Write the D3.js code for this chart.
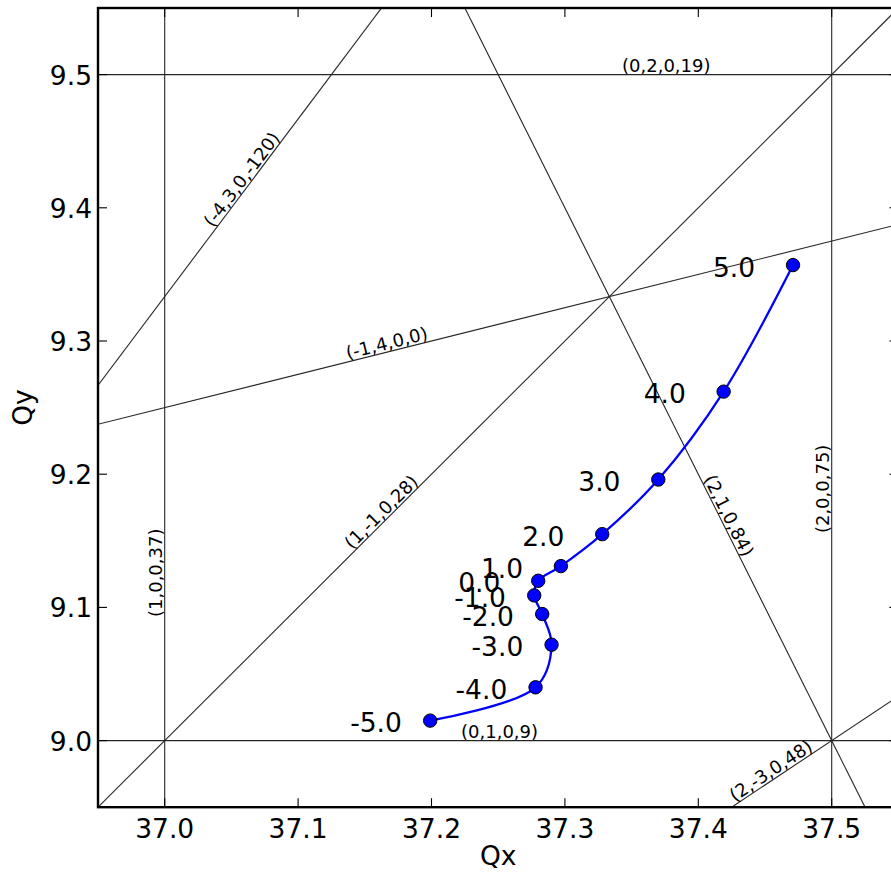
<!DOCTYPE html>
<html lang="en">
<head>
<meta charset="UTF-8">
<title>Qx Qy scan</title>
<style>
  body { margin: 0; padding: 0; background: #ffffff; overflow: hidden; }
  svg { display: block; font-family: 'DejaVu Sans', sans-serif; }
  .ref-line { fill: none; stroke: #262626; stroke-width: 1.1px; }
  .ref-label { font-size: 18px; fill: #000; }
  .tick-label { font-size: 26.5px; fill: #000; }
  .pt-label { font-size: 26.5px; fill: #000; }
</style>
</head>
<body>
<div id="chart"></div>
<script src="https://d3js.org/d3.v7.min.js"></script>
<script>
// scan point positions (energy offsets)
const stepLabels = [-5.0, -4.0, -3.0, -2.0, -1.0, 0.0, 1.0, 2.0, 3.0, 4.0, 5.0];
const qx = [37.199, 37.278, 37.290, 37.283, 37.277, 37.280, 37.297, 37.328, 37.370, 37.419, 37.471];
const qy = [9.015, 9.040, 9.072, 9.095, 9.109, 9.120, 9.131, 9.155, 9.196, 9.262, 9.357];

// reference lines h*Qx + k*Qy = n, labelled (h,k,l,n)
const lineH = [1, 2, 0, 0, 1, -1, -4, 2, 2];
const lineK = [0, 0, 1, 2, -1, 4, 3, 1, -3];
const lineL = [0, 0, 0, 0, 0, 0, 0, 0, 0];
const lineN = [37, 75, 9, 19, 28, 0, -120, 84, 48];
// where each label sits: Qy for vertical lines, Qx for the rest
const labelAt = [9.126, 9.189, 37.251, 37.376, 37.167, 37.168, 37.063, 37.417, 37.458];

const xDomain = [36.95, 37.55];
const yDomain = [8.95, 9.55];
const xTicks = [37.0, 37.1, 37.2, 37.3, 37.4, 37.5];
const yTicks = [9.0, 9.1, 9.2, 9.3, 9.4, 9.5];

const width = 891, height = 872;
const margin = { left: 98, top: 8 };
const plotW = 800.4, plotH = 799.2;

const svg = d3.select('#chart').append('svg')
  .attr('width', width)
  .attr('height', height);

const x = d3.scaleLinear().domain(xDomain).range([margin.left, margin.left + plotW]);
const y = d3.scaleLinear().domain(yDomain).range([margin.top + plotH, margin.top]);

svg.append('clipPath').attr('id', 'plot-clip')
  .append('rect')
  .attr('x', margin.left).attr('y', margin.top)
  .attr('width', plotW).attr('height', plotH);

const plot = svg.append('g').attr('clip-path', 'url(#plot-clip)');

// reference lines
const refs = lineH.map((h, i) => ({ h: h, k: lineK[i], l: lineL[i], n: lineN[i], at: labelAt[i] }));

function ends(r) {
  if (r.k === 0) {
    const xv = r.n / r.h;
    return [[xv, yDomain[0] - 1], [xv, yDomain[1] + 1]];
  }
  const fy = xv => (r.n - r.h * xv) / r.k;
  const x0 = xDomain[0] - 1, x1 = xDomain[1] + 1;
  return [[x0, fy(x0)], [x1, fy(x1)]];
}

plot.selectAll('.ref-line')
  .data(refs)
  .enter().append('line')
  .attr('class', 'ref-line')
  .attr('x1', d => x(ends(d)[0][0]))
  .attr('y1', d => y(ends(d)[0][1]))
  .attr('x2', d => x(ends(d)[1][0]))
  .attr('y2', d => y(ends(d)[1][1]));

function labelPos(r) {
  if (r.k === 0) {
    return { px: x(r.n / r.h), py: y(r.at), angle: -90 };
  }
  const fy = xv => (r.n - r.h * xv) / r.k;
  const px = x(r.at), py = y(fy(r.at));
  const dx = x(r.at + 0.1) - px, dy = y(fy(r.at + 0.1)) - py;
  return { px: px, py: py, angle: Math.atan2(dy, dx) * 180 / Math.PI };
}

plot.selectAll('.ref-label')
  .data(refs)
  .enter().append('text')
  .attr('class', 'ref-label')
  .attr('transform', d => {
    const p = labelPos(d);
    return `translate(${p.px},${p.py}) rotate(${p.angle})`;
  })
  .attr('y', -2.5)
  .attr('text-anchor', 'middle')
  .text(d => `(${d.h},${d.k},${d.l},${d.n})`);

// scan path
const pts = qx.map((v, i) => ({ x: v, y: qy[i], s: stepLabels[i] }));

const path = d3.line()
  .x(d => x(d.x))
  .y(d => y(d.y))
  .curve(d3.curveCatmullRom.alpha(0.5));

plot.append('path')
  .datum(pts)
  .attr('d', path)
  .attr('fill', 'none')
  .attr('stroke', '#0000ff')
  .attr('stroke-width', 2.3);

plot.selectAll('.pt')
  .data(pts)
  .enter().append('circle')
  .attr('class', 'pt')
  .attr('cx', d => x(d.x))
  .attr('cy', d => y(d.y))
  .attr('r', 6.7)
  .attr('fill', '#0000ff')
  .attr('stroke', '#000')
  .attr('stroke-width', 1);

plot.selectAll('.pt-label')
  .data(pts)
  .enter().append('text')
  .attr('class', 'pt-label')
  .attr('x', d => x(d.x) - 80)
  .attr('y', d => y(d.y) + 11.5)
  .text(d => d.s.toFixed(1));

// ticks, inward on all four sides
const tickLen = 9;
const axes = svg.append('g');
xTicks.forEach(t => {
  axes.append('line').attr('x1', x(t)).attr('x2', x(t))
    .attr('y1', margin.top + plotH).attr('y2', margin.top + plotH - tickLen)
    .attr('stroke', '#000').attr('stroke-width', 1.1);
  axes.append('line').attr('x1', x(t)).attr('x2', x(t))
    .attr('y1', margin.top).attr('y2', margin.top + tickLen)
    .attr('stroke', '#000').attr('stroke-width', 1.1);
  axes.append('text').attr('class', 'tick-label')
    .attr('x', x(t)).attr('y', margin.top + plotH + 31)
    .attr('text-anchor', 'middle')
    .text(d3.format('.1f')(t));
});
yTicks.forEach(t => {
  axes.append('line').attr('x1', margin.left).attr('x2', margin.left + tickLen)
    .attr('y1', y(t)).attr('y2', y(t))
    .attr('stroke', '#000').attr('stroke-width', 1.1);
  axes.append('line').attr('x1', margin.left + plotW).attr('x2', margin.left + plotW - tickLen)
    .attr('y1', y(t)).attr('y2', y(t))
    .attr('stroke', '#000').attr('stroke-width', 1.1);
  axes.append('text').attr('class', 'tick-label')
    .attr('x', margin.left - 6).attr('y', y(t) + 10)
    .attr('text-anchor', 'end')
    .text(d3.format('.1f')(t));
});

// frame
axes.append('rect')
  .attr('x', margin.left).attr('y', margin.top)
  .attr('width', plotW).attr('height', plotH)
  .attr('fill', 'none')
  .attr('stroke', '#000')
  .attr('stroke-width', 2.4);

// axis titles
svg.append('text').attr('class', 'tick-label')
  .attr('x', margin.left + plotW / 2).attr('y', 865)
  .attr('text-anchor', 'middle')
  .text('Qx');
svg.append('text').attr('class', 'tick-label')
  .attr('transform', `translate(32,${margin.top + plotH / 2}) rotate(-90)`)
  .attr('text-anchor', 'middle')
  .text('Qy');
</script>
</body>
</html>
